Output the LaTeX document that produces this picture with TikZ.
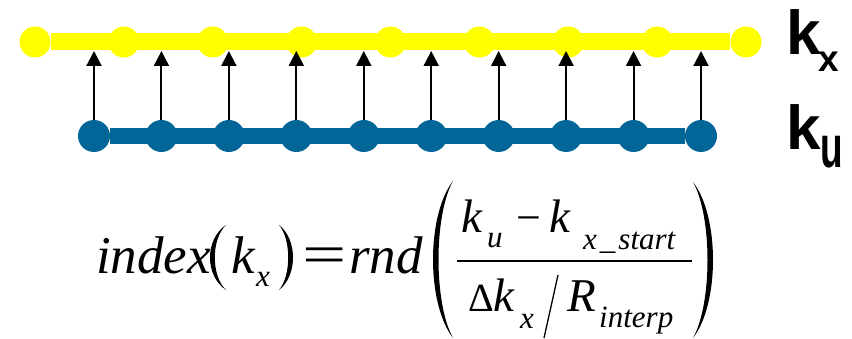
\documentclass[tikz,border=0pt]{standalone}
\usepackage{fontspec}
\setmainfont{Liberation Serif}
\newfontfamily\lsans{Liberation Sans}
\newfontfamily\lserif{Liberation Serif}
\usetikzlibrary{arrows.meta}
\definecolor{kyellow}{RGB}{255,255,0}
\definecolor{kblue}{RGB}{2,102,153}
\newcommand{\kparen}[5]{%
  \fill ({#1},{#3}) .. controls ({#1+4/3*(#2-#1)},{#3+0.22*(#4-#3)}) and ({#1+4/3*(#2-#1)},{#4-0.22*(#4-#3)}) .. ({#1},{#4})
   .. controls ({#1+4/3*(#5-#1)},{#4-0.22*(#4-#3)}) and ({#1+4/3*(#5-#1)},{#3+0.22*(#4-#3)}) .. ({#1},{#3}) -- cycle;}
\begin{document}
\begin{tikzpicture}[x=1pt,y=-1pt,
  ydot/.style={circle,fill=kyellow,minimum size=31pt,inner sep=0pt},
  bdot/.style={circle,fill=kblue,minimum size=32pt,inner sep=0pt},
  yline/.style={draw=kyellow,line width=17pt},
  bline/.style={draw=kblue,line width=16pt},
  arr/.style={-{Triangle[width=15pt,length=15pt]},line width=2pt},
  lab/.style={anchor=base west,inner sep=0pt,font=\fontsize{62}{62}\selectfont\lsans\bfseries},
  labsub/.style={anchor=base west,inner sep=0pt,font=\fontsize{37}{37}\selectfont\lsans\bfseries},
  eqbig/.style={anchor=base west,inner sep=0pt,font=\fontsize{53}{53}\selectfont\lserif\itshape},
  eqmid/.style={anchor=base west,inner sep=0pt,font=\fontsize{47}{47}\selectfont\lserif\itshape},
  eqsub/.style={anchor=base west,inner sep=0pt,font=\fontsize{31}{31}\selectfont\lserif\itshape},
  equp/.style={anchor=base west,inner sep=0pt,font=\fontsize{44}{44}\selectfont\lserif}]
\useasboundingbox (0,0) rectangle (852,339);
% yellow row
\foreach \i in {1,...,9} \node[ydot] (y\i) at ({35+(\i-1)*88.875},42) {};
\draw[yline] (y1) -- (y9);
% blue row
\foreach \i in {1,...,10} {
  \node[bdot] (b\i) at ({94+(\i-1)*67.444},136) {};
  \coordinate (a\i) at ({94+(\i-1)*67.444},51);
}
\draw[bline] (b1) -- (b10);
\foreach \i in {1,...,10} \draw[arr] (b\i.north) -- (a\i);
% labels
\node[lab] (kx) at (786,55) {k};
\node[labsub] (kxs) at (818,72) {x};
\node[lab] (ku) at (786,150) {k};
\node[labsub] (kus) at (820,168) {\scalebox{1}[1.6]{u}};
% equation
\node[eqbig] (eindex) at (96,274) {index};
\kparen{226}{210}{225}{290}{214.8}
\node[eqbig] (ek) at (231,274) {k};
\node[eqsub] (ex) at (256,287) {x};
\kparen{279}{293}{225}{290}{288.2}
\node[anchor=base west,inner sep=0pt,font=\fontsize{56}{56}\selectfont\lserif] (eeq) at (302,274) {\scalebox{1.4}[1]{=}};
\node[eqbig] (ernd) at (349,274) {rnd};
\kparen{453}{433}{181}{338}{438.5}
\node[eqmid] (nk) at (461,233) {k};
\node[eqsub] (nu) at (487,248) {u};
\node[equp] (nminus) at (516,233) {−};
\node[eqmid] (nk2) at (549,233) {k};
\node[eqsub] (nxs) at (583,250) {x\hspace{3pt}\_\hspace{3pt}start};
\draw[line width=2pt] (457,261) -- (692,261);
\node[anchor=base west,inner sep=0pt,font=\fontsize{40}{40}\selectfont\lserif] (dD) at (468,312) {Δ};
\node[eqmid] (dk) at (493,312) {k};
\node[eqsub] (dx) at (520,328) {x};
\draw[line width=1.3pt] (558,275) -- (544,338);
\node[eqmid] (dR) at (567,312) {R};
\node[eqsub] (dint) at (599,327) {interp};
\kparen{693}{713}{182}{338}{707.5}
\end{tikzpicture}
\end{document}
